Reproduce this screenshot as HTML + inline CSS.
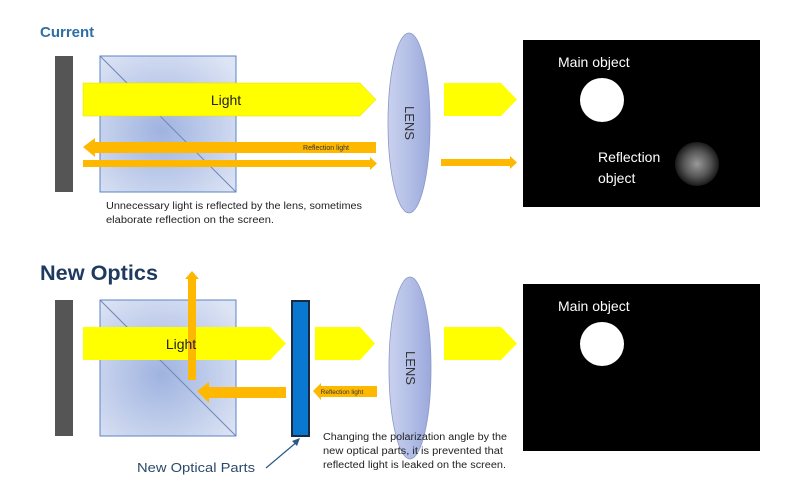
<!DOCTYPE html>
<html><head><meta charset="utf-8"><style>
html,body{margin:0;padding:0;background:#fff;}
svg{display:block;font-family:"Liberation Sans",sans-serif;}
</style></head><body>
<svg width="794" height="504" viewBox="0 0 794 504" xmlns="http://www.w3.org/2000/svg">
<defs>
<radialGradient id="cube" cx="0.45" cy="0.55" r="0.7">
<stop offset="0" stop-color="#9fb3e0"/><stop offset="1" stop-color="#dde4f4"/>
</radialGradient>
<linearGradient id="lens" x1="0" y1="0" x2="1" y2="0">
<stop offset="0" stop-color="#c9d1ee"/><stop offset="0.5" stop-color="#b4bfe6"/><stop offset="1" stop-color="#9aa8dc"/>
</linearGradient>
<radialGradient id="glow" cx="0.5" cy="0.5" r="0.5">
<stop offset="0" stop-color="#999"/><stop offset="0.6" stop-color="#555"/><stop offset="1" stop-color="#1a1a1a"/>
</radialGradient>
</defs>

<!-- TOP -->
<text x="40" y="37" font-size="15" font-weight="bold" fill="#2e6fa6">Current</text>
<rect x="55" y="56" width="18" height="136" fill="#555"/>
<rect x="100" y="56" width="136" height="136" fill="url(#cube)" stroke="#5b84c4" stroke-width="1"/>
<line x1="100" y1="56" x2="236" y2="192" stroke="#6f87b8" stroke-width="1"/>
<polygon points="83,83 360,83 376,99.5 360,116 83,116" fill="#ffff00" stroke="#e6d800" stroke-width="0.5"/>
<text x="226" y="105" font-size="14" text-anchor="middle" fill="#222">Light</text>
<polygon points="83,147 95,138 95,142 376,142 376,153 95,153 95,157" fill="#ffb800"/>
<text x="326" y="150" font-size="7" text-anchor="middle" fill="#333">Reflection light</text>
<polygon points="83,160 370,160 370,157 377,163.5 370,170 370,167 83,167" fill="#ffb800"/>
<ellipse cx="409" cy="123" rx="21" ry="90" fill="url(#lens)" stroke="#8a98c8" stroke-width="0.8"/>
<text x="0" y="0" font-size="13" fill="#333" text-anchor="middle" transform="translate(405,123) rotate(90)">LENS</text>
<polygon points="444,83 501,83 517,99.5 501,116 444,116" fill="#ffff00"/>
<polygon points="441,159 510,159 510,156 517,162.5 510,169 510,166 441,166" fill="#ffb800"/>
<rect x="523" y="40" width="237" height="167" fill="#000"/>
<text x="558" y="67" font-size="14" fill="#fff">Main object</text>
<circle cx="602" cy="100" r="22" fill="#fff"/>
<text x="598" y="162" font-size="14" fill="#fff">Reflection</text>
<text x="598" y="183" font-size="14" fill="#fff">object</text>
<circle cx="697" cy="164" r="22" fill="url(#glow)"/>
<text x="106" y="209" font-size="10" fill="#222" textLength="256" lengthAdjust="spacingAndGlyphs">Unnecessary light is reflected by the lens, sometimes</text>
<text x="106" y="223" font-size="10" fill="#222" textLength="168" lengthAdjust="spacingAndGlyphs">elaborate reflection on the screen.</text>

<!-- BOTTOM -->
<text x="40" y="280" font-size="21.5" font-weight="bold" fill="#1f3a5f" textLength="118" lengthAdjust="spacingAndGlyphs">New Optics</text>
<rect x="55" y="300" width="18" height="136" fill="#555"/>
<rect x="100" y="300" width="136" height="136" fill="url(#cube)" stroke="#5b84c4" stroke-width="1"/>
<line x1="100" y1="300" x2="236" y2="436" stroke="#6f87b8" stroke-width="1"/>
<polygon points="83,327 270,327 286,343.5 270,360 83,360" fill="#ffff00"/>
<polygon points="188,380 188,279 185,279 192,271 199,279 196,279 196,380" fill="#ffb800"/>
<text x="181" y="349" font-size="14" text-anchor="middle" fill="#222">Light</text>
<polygon points="197,391 209,382 209,387 286,387 286,398 209,398 209,403" fill="#ffb800"/>
<rect x="292" y="301" width="17" height="135" fill="#0a78d0" stroke="#1a2a40" stroke-width="2"/>
<polygon points="315,327 360,327 375,343.5 360,360 315,360" fill="#ffff00"/>
<polygon points="313,391 321,383 321,386 377,386 377,397 321,397 321,400" fill="#ffb800"/>
<text x="342" y="394" font-size="6.5" text-anchor="middle" fill="#333">Reflection light</text>
<ellipse cx="410" cy="368" rx="21" ry="91" fill="url(#lens)" stroke="#8a98c8" stroke-width="0.8"/>
<text x="0" y="0" font-size="13" fill="#333" text-anchor="middle" transform="translate(406,368) rotate(90)">LENS</text>
<polygon points="444,327 501,327 517,343.5 501,360 444,360" fill="#ffff00"/>
<rect x="523" y="284" width="237" height="167" fill="#000"/>
<text x="558" y="311" font-size="14" fill="#fff">Main object</text>
<circle cx="602" cy="344" r="22" fill="#fff"/>
<text x="323" y="440" font-size="10" fill="#222" textLength="184" lengthAdjust="spacingAndGlyphs">Changing the polarization angle by the</text>
<text x="323" y="454" font-size="10" fill="#222" textLength="180" lengthAdjust="spacingAndGlyphs">new optical parts, it is prevented that</text>
<text x="323" y="468" font-size="10" fill="#222" textLength="183" lengthAdjust="spacingAndGlyphs">reflected light is leaked on the screen.</text>
<text x="137" y="472" font-size="13" fill="#2b4a6b" textLength="118" lengthAdjust="spacingAndGlyphs">New Optical Parts</text>
<line x1="266" y1="468" x2="298" y2="441" stroke="#2b5a8a" stroke-width="1.2"/>
<polygon points="300,438 292,441 297,446" fill="#2b5a8a"/>
</svg>
</body></html>
